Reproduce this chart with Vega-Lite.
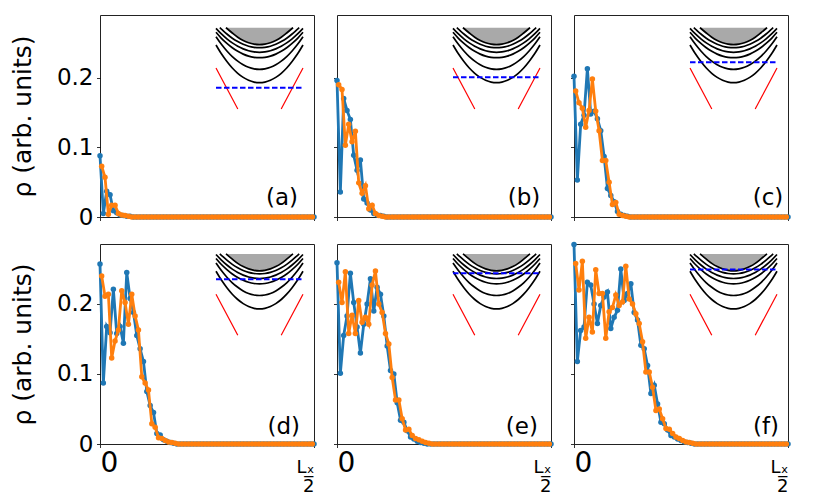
{
  "$schema": "https://vega.github.io/schema/vega-lite/v6.json",
  "background": "white",
  "padding": {"left": 9, "top": 14, "right": 10, "bottom": 0},
  "datasets": {
    "a_b": [{"x":0,"y":0.088},{"x":1,"y":0.005},{"x":2,"y":0.037},{"x":3,"y":0.032},{"x":4,"y":0.009},{"x":5,"y":0.006},{"x":6,"y":0.003},{"x":7,"y":0.002},{"x":8,"y":0.001},{"x":9,"y":0.001},{"x":10,"y":0},{"x":11,"y":0},{"x":12,"y":0},{"x":13,"y":0},{"x":14,"y":0},{"x":15,"y":0},{"x":16,"y":0},{"x":17,"y":0},{"x":18,"y":0},{"x":19,"y":0},{"x":20,"y":0},{"x":21,"y":0},{"x":22,"y":0},{"x":23,"y":0},{"x":24,"y":0},{"x":25,"y":0},{"x":26,"y":0},{"x":27,"y":0},{"x":28,"y":0},{"x":29,"y":0},{"x":30,"y":0},{"x":31,"y":0},{"x":32,"y":0},{"x":33,"y":0},{"x":34,"y":0},{"x":35,"y":0},{"x":36,"y":0},{"x":37,"y":0},{"x":38,"y":0},{"x":39,"y":0},{"x":40,"y":0},{"x":41,"y":0},{"x":42,"y":0},{"x":43,"y":0},{"x":44,"y":0},{"x":45,"y":0},{"x":46,"y":0},{"x":47,"y":0},{"x":48,"y":0},{"x":49,"y":0},{"x":50,"y":0},{"x":51,"y":0},{"x":52,"y":0},{"x":53,"y":0},{"x":54,"y":0},{"x":55,"y":0},{"x":56,"y":0},{"x":57,"y":0},{"x":58,"y":0},{"x":59,"y":0},{"x":60,"y":0},{"x":61,"y":0},{"x":62,"y":0},{"x":63,"y":0},{"x":64,"y":0}],
    "a_o": [{"x":0.5,"y":0.073},{"x":1.5,"y":0.057},{"x":2.5,"y":0.004},{"x":3.5,"y":0.017},{"x":4.5,"y":0.017},{"x":5.5,"y":0.005},{"x":6.5,"y":0.003},{"x":7.5,"y":0.002},{"x":8.5,"y":0.001},{"x":9.5,"y":0},{"x":10.5,"y":0},{"x":11.5,"y":0},{"x":12.5,"y":0},{"x":13.5,"y":0},{"x":14.5,"y":0},{"x":15.5,"y":0},{"x":16.5,"y":0},{"x":17.5,"y":0},{"x":18.5,"y":0},{"x":19.5,"y":0},{"x":20.5,"y":0},{"x":21.5,"y":0},{"x":22.5,"y":0},{"x":23.5,"y":0},{"x":24.5,"y":0},{"x":25.5,"y":0},{"x":26.5,"y":0},{"x":27.5,"y":0},{"x":28.5,"y":0},{"x":29.5,"y":0},{"x":30.5,"y":0},{"x":31.5,"y":0},{"x":32.5,"y":0},{"x":33.5,"y":0},{"x":34.5,"y":0},{"x":35.5,"y":0},{"x":36.5,"y":0},{"x":37.5,"y":0},{"x":38.5,"y":0},{"x":39.5,"y":0},{"x":40.5,"y":0},{"x":41.5,"y":0},{"x":42.5,"y":0},{"x":43.5,"y":0},{"x":44.5,"y":0},{"x":45.5,"y":0},{"x":46.5,"y":0},{"x":47.5,"y":0},{"x":48.5,"y":0},{"x":49.5,"y":0},{"x":50.5,"y":0},{"x":51.5,"y":0},{"x":52.5,"y":0},{"x":53.5,"y":0},{"x":54.5,"y":0},{"x":55.5,"y":0},{"x":56.5,"y":0},{"x":57.5,"y":0},{"x":58.5,"y":0},{"x":59.5,"y":0},{"x":60.5,"y":0},{"x":61.5,"y":0},{"x":62.5,"y":0},{"x":63.5,"y":0}],
    "b_b": [{"x":0,"y":0.196},{"x":1,"y":0.036},{"x":2,"y":0.17},{"x":3,"y":0.153},{"x":4,"y":0.14},{"x":5,"y":0.0885},{"x":6,"y":0.067},{"x":7,"y":0.082},{"x":8,"y":0.026},{"x":9,"y":0.02},{"x":10,"y":0.01},{"x":11,"y":0.005},{"x":12,"y":0.003},{"x":13,"y":0.002},{"x":14,"y":0.001},{"x":15,"y":0},{"x":16,"y":0},{"x":17,"y":0},{"x":18,"y":0},{"x":19,"y":0},{"x":20,"y":0},{"x":21,"y":0},{"x":22,"y":0},{"x":23,"y":0},{"x":24,"y":0},{"x":25,"y":0},{"x":26,"y":0},{"x":27,"y":0},{"x":28,"y":0},{"x":29,"y":0},{"x":30,"y":0},{"x":31,"y":0},{"x":32,"y":0},{"x":33,"y":0},{"x":34,"y":0},{"x":35,"y":0},{"x":36,"y":0},{"x":37,"y":0},{"x":38,"y":0},{"x":39,"y":0},{"x":40,"y":0},{"x":41,"y":0},{"x":42,"y":0},{"x":43,"y":0},{"x":44,"y":0},{"x":45,"y":0},{"x":46,"y":0},{"x":47,"y":0},{"x":48,"y":0},{"x":49,"y":0},{"x":50,"y":0},{"x":51,"y":0},{"x":52,"y":0},{"x":53,"y":0},{"x":54,"y":0},{"x":55,"y":0},{"x":56,"y":0},{"x":57,"y":0},{"x":58,"y":0},{"x":59,"y":0},{"x":60,"y":0},{"x":61,"y":0},{"x":62,"y":0},{"x":63,"y":0},{"x":64,"y":0}],
    "b_o": [{"x":0.5,"y":0.19},{"x":1.5,"y":0.183},{"x":2.5,"y":0.103},{"x":3.5,"y":0.133},{"x":4.5,"y":0.108},{"x":5.5,"y":0.123},{"x":6.5,"y":0.049},{"x":7.5,"y":0.034},{"x":8.5,"y":0.045},{"x":9.5,"y":0.012},{"x":10.5,"y":0.017},{"x":11.5,"y":0.005},{"x":12.5,"y":0.002},{"x":13.5,"y":0.001},{"x":14.5,"y":0},{"x":15.5,"y":0},{"x":16.5,"y":0},{"x":17.5,"y":0},{"x":18.5,"y":0},{"x":19.5,"y":0},{"x":20.5,"y":0},{"x":21.5,"y":0},{"x":22.5,"y":0},{"x":23.5,"y":0},{"x":24.5,"y":0},{"x":25.5,"y":0},{"x":26.5,"y":0},{"x":27.5,"y":0},{"x":28.5,"y":0},{"x":29.5,"y":0},{"x":30.5,"y":0},{"x":31.5,"y":0},{"x":32.5,"y":0},{"x":33.5,"y":0},{"x":34.5,"y":0},{"x":35.5,"y":0},{"x":36.5,"y":0},{"x":37.5,"y":0},{"x":38.5,"y":0},{"x":39.5,"y":0},{"x":40.5,"y":0},{"x":41.5,"y":0},{"x":42.5,"y":0},{"x":43.5,"y":0},{"x":44.5,"y":0},{"x":45.5,"y":0},{"x":46.5,"y":0},{"x":47.5,"y":0},{"x":48.5,"y":0},{"x":49.5,"y":0},{"x":50.5,"y":0},{"x":51.5,"y":0},{"x":52.5,"y":0},{"x":53.5,"y":0},{"x":54.5,"y":0},{"x":55.5,"y":0},{"x":56.5,"y":0},{"x":57.5,"y":0},{"x":58.5,"y":0},{"x":59.5,"y":0},{"x":60.5,"y":0},{"x":61.5,"y":0},{"x":62.5,"y":0},{"x":63.5,"y":0}],
    "c_b": [{"x":0,"y":0.202},{"x":1,"y":0.053},{"x":2,"y":0.133},{"x":3,"y":0.146},{"x":4,"y":0.213},{"x":5,"y":0.148},{"x":6,"y":0.152},{"x":7,"y":0.141},{"x":8,"y":0.124},{"x":9,"y":0.087},{"x":10,"y":0.041},{"x":11,"y":0.031},{"x":12,"y":0.022},{"x":13,"y":0.008},{"x":14,"y":0.004},{"x":15,"y":0.002},{"x":16,"y":0.001},{"x":17,"y":0},{"x":18,"y":0},{"x":19,"y":0},{"x":20,"y":0},{"x":21,"y":0},{"x":22,"y":0},{"x":23,"y":0},{"x":24,"y":0},{"x":25,"y":0},{"x":26,"y":0},{"x":27,"y":0},{"x":28,"y":0},{"x":29,"y":0},{"x":30,"y":0},{"x":31,"y":0},{"x":32,"y":0},{"x":33,"y":0},{"x":34,"y":0},{"x":35,"y":0},{"x":36,"y":0},{"x":37,"y":0},{"x":38,"y":0},{"x":39,"y":0},{"x":40,"y":0},{"x":41,"y":0},{"x":42,"y":0},{"x":43,"y":0},{"x":44,"y":0},{"x":45,"y":0},{"x":46,"y":0},{"x":47,"y":0},{"x":48,"y":0},{"x":49,"y":0},{"x":50,"y":0},{"x":51,"y":0},{"x":52,"y":0},{"x":53,"y":0},{"x":54,"y":0},{"x":55,"y":0},{"x":56,"y":0},{"x":57,"y":0},{"x":58,"y":0},{"x":59,"y":0},{"x":60,"y":0},{"x":61,"y":0},{"x":62,"y":0},{"x":63,"y":0},{"x":64,"y":0}],
    "c_o": [{"x":0.5,"y":0.181},{"x":1.5,"y":0.164},{"x":2.5,"y":0.156},{"x":3.5,"y":0.129},{"x":4.5,"y":0.153},{"x":5.5,"y":0.198},{"x":6.5,"y":0.152},{"x":7.5,"y":0.124},{"x":8.5,"y":0.081},{"x":9.5,"y":0.081},{"x":10.5,"y":0.05},{"x":11.5,"y":0.018},{"x":12.5,"y":0.021},{"x":13.5,"y":0.004},{"x":14.5,"y":0.002},{"x":15.5,"y":0.001},{"x":16.5,"y":0},{"x":17.5,"y":0},{"x":18.5,"y":0},{"x":19.5,"y":0},{"x":20.5,"y":0},{"x":21.5,"y":0},{"x":22.5,"y":0},{"x":23.5,"y":0},{"x":24.5,"y":0},{"x":25.5,"y":0},{"x":26.5,"y":0},{"x":27.5,"y":0},{"x":28.5,"y":0},{"x":29.5,"y":0},{"x":30.5,"y":0},{"x":31.5,"y":0},{"x":32.5,"y":0},{"x":33.5,"y":0},{"x":34.5,"y":0},{"x":35.5,"y":0},{"x":36.5,"y":0},{"x":37.5,"y":0},{"x":38.5,"y":0},{"x":39.5,"y":0},{"x":40.5,"y":0},{"x":41.5,"y":0},{"x":42.5,"y":0},{"x":43.5,"y":0},{"x":44.5,"y":0},{"x":45.5,"y":0},{"x":46.5,"y":0},{"x":47.5,"y":0},{"x":48.5,"y":0},{"x":49.5,"y":0},{"x":50.5,"y":0},{"x":51.5,"y":0},{"x":52.5,"y":0},{"x":53.5,"y":0},{"x":54.5,"y":0},{"x":55.5,"y":0},{"x":56.5,"y":0},{"x":57.5,"y":0},{"x":58.5,"y":0},{"x":59.5,"y":0},{"x":60.5,"y":0},{"x":61.5,"y":0},{"x":62.5,"y":0},{"x":63.5,"y":0}],
    "d_b": [{"x":0,"y":0.257},{"x":1,"y":0.087},{"x":2,"y":0.168},{"x":3,"y":0.159},{"x":4,"y":0.221},{"x":5,"y":0.158},{"x":6,"y":0.168},{"x":7,"y":0.144},{"x":8,"y":0.245},{"x":9,"y":0.208},{"x":10,"y":0.188},{"x":11,"y":0.155},{"x":12,"y":0.136},{"x":13,"y":0.118},{"x":14,"y":0.075},{"x":15,"y":0.055},{"x":16,"y":0.045},{"x":17,"y":0.015},{"x":18,"y":0.013},{"x":19,"y":0.006},{"x":20,"y":0.004},{"x":21,"y":0.002},{"x":22,"y":0.001},{"x":23,"y":0},{"x":24,"y":0},{"x":25,"y":0},{"x":26,"y":0},{"x":27,"y":0},{"x":28,"y":0},{"x":29,"y":0},{"x":30,"y":0},{"x":31,"y":0},{"x":32,"y":0},{"x":33,"y":0},{"x":34,"y":0},{"x":35,"y":0},{"x":36,"y":0},{"x":37,"y":0},{"x":38,"y":0},{"x":39,"y":0},{"x":40,"y":0},{"x":41,"y":0},{"x":42,"y":0},{"x":43,"y":0},{"x":44,"y":0},{"x":45,"y":0},{"x":46,"y":0},{"x":47,"y":0},{"x":48,"y":0},{"x":49,"y":0},{"x":50,"y":0},{"x":51,"y":0},{"x":52,"y":0},{"x":53,"y":0},{"x":54,"y":0},{"x":55,"y":0},{"x":56,"y":0},{"x":57,"y":0},{"x":58,"y":0},{"x":59,"y":0},{"x":60,"y":0},{"x":61,"y":0},{"x":62,"y":0},{"x":63,"y":0},{"x":64,"y":0}],
    "d_o": [{"x":0.5,"y":0.24},{"x":1.5,"y":0.211},{"x":2.5,"y":0.214},{"x":3.5,"y":0.123},{"x":4.5,"y":0.147},{"x":5.5,"y":0.163},{"x":6.5,"y":0.219},{"x":7.5,"y":0.202},{"x":8.5,"y":0.171},{"x":9.5,"y":0.214},{"x":10.5,"y":0.183},{"x":11.5,"y":0.163},{"x":12.5,"y":0.096},{"x":13.5,"y":0.087},{"x":14.5,"y":0.077},{"x":15.5,"y":0.029},{"x":16.5,"y":0.024},{"x":17.5,"y":0.009},{"x":18.5,"y":0.008},{"x":19.5,"y":0.005},{"x":20.5,"y":0.003},{"x":21.5,"y":0.002},{"x":22.5,"y":0.001},{"x":23.5,"y":0},{"x":24.5,"y":0},{"x":25.5,"y":0},{"x":26.5,"y":0},{"x":27.5,"y":0},{"x":28.5,"y":0},{"x":29.5,"y":0},{"x":30.5,"y":0},{"x":31.5,"y":0},{"x":32.5,"y":0},{"x":33.5,"y":0},{"x":34.5,"y":0},{"x":35.5,"y":0},{"x":36.5,"y":0},{"x":37.5,"y":0},{"x":38.5,"y":0},{"x":39.5,"y":0},{"x":40.5,"y":0},{"x":41.5,"y":0},{"x":42.5,"y":0},{"x":43.5,"y":0},{"x":44.5,"y":0},{"x":45.5,"y":0},{"x":46.5,"y":0},{"x":47.5,"y":0},{"x":48.5,"y":0},{"x":49.5,"y":0},{"x":50.5,"y":0},{"x":51.5,"y":0},{"x":52.5,"y":0},{"x":53.5,"y":0},{"x":54.5,"y":0},{"x":55.5,"y":0},{"x":56.5,"y":0},{"x":57.5,"y":0},{"x":58.5,"y":0},{"x":59.5,"y":0},{"x":60.5,"y":0},{"x":61.5,"y":0},{"x":62.5,"y":0},{"x":63.5,"y":0}],
    "e_b": [{"x":0,"y":0.259},{"x":1,"y":0.101},{"x":2,"y":0.155},{"x":3,"y":0.183},{"x":4,"y":0.244},{"x":5,"y":0.202},{"x":6,"y":0.167},{"x":7,"y":0.13},{"x":8,"y":0.171},{"x":9,"y":0.2},{"x":10,"y":0.236},{"x":11,"y":0.19},{"x":12,"y":0.224},{"x":13,"y":0.214},{"x":14,"y":0.183},{"x":15,"y":0.14},{"x":16,"y":0.105},{"x":17,"y":0.1},{"x":18,"y":0.059},{"x":19,"y":0.034},{"x":20,"y":0.031},{"x":21,"y":0.019},{"x":22,"y":0.01},{"x":23,"y":0.007},{"x":24,"y":0.004},{"x":25,"y":0.002},{"x":26,"y":0.001},{"x":27,"y":0},{"x":28,"y":0},{"x":29,"y":0},{"x":30,"y":0},{"x":31,"y":0},{"x":32,"y":0},{"x":33,"y":0},{"x":34,"y":0},{"x":35,"y":0},{"x":36,"y":0},{"x":37,"y":0},{"x":38,"y":0},{"x":39,"y":0},{"x":40,"y":0},{"x":41,"y":0},{"x":42,"y":0},{"x":43,"y":0},{"x":44,"y":0},{"x":45,"y":0},{"x":46,"y":0},{"x":47,"y":0},{"x":48,"y":0},{"x":49,"y":0},{"x":50,"y":0},{"x":51,"y":0},{"x":52,"y":0},{"x":53,"y":0},{"x":54,"y":0},{"x":55,"y":0},{"x":56,"y":0},{"x":57,"y":0},{"x":58,"y":0},{"x":59,"y":0},{"x":60,"y":0},{"x":61,"y":0},{"x":62,"y":0},{"x":63,"y":0},{"x":64,"y":0}],
    "e_o": [{"x":0.5,"y":0.231},{"x":1.5,"y":0.202},{"x":2.5,"y":0.246},{"x":3.5,"y":0.158},{"x":4.5,"y":0.184},{"x":5.5,"y":0.158},{"x":6.5,"y":0.205},{"x":7.5,"y":0.174},{"x":8.5,"y":0.181},{"x":9.5,"y":0.171},{"x":10.5,"y":0.227},{"x":11.5,"y":0.247},{"x":12.5,"y":0.2},{"x":13.5,"y":0.188},{"x":14.5,"y":0.158},{"x":15.5,"y":0.143},{"x":16.5,"y":0.095},{"x":17.5,"y":0.063},{"x":18.5,"y":0.063},{"x":19.5,"y":0.036},{"x":20.5,"y":0.02},{"x":21.5,"y":0.021},{"x":22.5,"y":0.012},{"x":23.5,"y":0.008},{"x":24.5,"y":0.006},{"x":25.5,"y":0.004},{"x":26.5,"y":0.002},{"x":27.5,"y":0.001},{"x":28.5,"y":0},{"x":29.5,"y":0},{"x":30.5,"y":0},{"x":31.5,"y":0},{"x":32.5,"y":0},{"x":33.5,"y":0},{"x":34.5,"y":0},{"x":35.5,"y":0},{"x":36.5,"y":0},{"x":37.5,"y":0},{"x":38.5,"y":0},{"x":39.5,"y":0},{"x":40.5,"y":0},{"x":41.5,"y":0},{"x":42.5,"y":0},{"x":43.5,"y":0},{"x":44.5,"y":0},{"x":45.5,"y":0},{"x":46.5,"y":0},{"x":47.5,"y":0},{"x":48.5,"y":0},{"x":49.5,"y":0},{"x":50.5,"y":0},{"x":51.5,"y":0},{"x":52.5,"y":0},{"x":53.5,"y":0},{"x":54.5,"y":0},{"x":55.5,"y":0},{"x":56.5,"y":0},{"x":57.5,"y":0},{"x":58.5,"y":0},{"x":59.5,"y":0},{"x":60.5,"y":0},{"x":61.5,"y":0},{"x":62.5,"y":0},{"x":63.5,"y":0}],
    "f_b": [{"x":0,"y":0.285},{"x":1,"y":0.118},{"x":2,"y":0.162},{"x":3,"y":0.167},{"x":4,"y":0.231},{"x":5,"y":0.227},{"x":6,"y":0.2},{"x":7,"y":0.172},{"x":8,"y":0.198},{"x":9,"y":0.21},{"x":10,"y":0.217},{"x":11,"y":0.165},{"x":12,"y":0.181},{"x":13,"y":0.191},{"x":14,"y":0.25},{"x":15,"y":0.205},{"x":16,"y":0.215},{"x":17,"y":0.229},{"x":18,"y":0.188},{"x":19,"y":0.177},{"x":20,"y":0.141},{"x":21,"y":0.136},{"x":22,"y":0.112},{"x":23,"y":0.072},{"x":24,"y":0.084},{"x":25,"y":0.057},{"x":26,"y":0.031},{"x":27,"y":0.029},{"x":28,"y":0.02},{"x":29,"y":0.012},{"x":30,"y":0.01},{"x":31,"y":0.007},{"x":32,"y":0.005},{"x":33,"y":0.003},{"x":34,"y":0.002},{"x":35,"y":0.001},{"x":36,"y":0},{"x":37,"y":0},{"x":38,"y":0},{"x":39,"y":0},{"x":40,"y":0},{"x":41,"y":0},{"x":42,"y":0},{"x":43,"y":0},{"x":44,"y":0},{"x":45,"y":0},{"x":46,"y":0},{"x":47,"y":0},{"x":48,"y":0},{"x":49,"y":0},{"x":50,"y":0},{"x":51,"y":0},{"x":52,"y":0},{"x":53,"y":0},{"x":54,"y":0},{"x":55,"y":0},{"x":56,"y":0},{"x":57,"y":0},{"x":58,"y":0},{"x":59,"y":0},{"x":60,"y":0},{"x":61,"y":0},{"x":62,"y":0},{"x":63,"y":0},{"x":64,"y":0}],
    "f_o": [{"x":0.5,"y":0.258},{"x":1.5,"y":0.22},{"x":2.5,"y":0.261},{"x":3.5,"y":0.151},{"x":4.5,"y":0.181},{"x":5.5,"y":0.16},{"x":6.5,"y":0.249},{"x":7.5,"y":0.215},{"x":8.5,"y":0.215},{"x":9.5,"y":0.151},{"x":10.5,"y":0.189},{"x":11.5,"y":0.195},{"x":12.5,"y":0.213},{"x":13.5,"y":0.198},{"x":14.5,"y":0.203},{"x":15.5,"y":0.254},{"x":16.5,"y":0.207},{"x":17.5,"y":0.2},{"x":18.5,"y":0.186},{"x":19.5,"y":0.172},{"x":20.5,"y":0.146},{"x":21.5,"y":0.103},{"x":22.5,"y":0.103},{"x":23.5,"y":0.081},{"x":24.5,"y":0.048},{"x":25.5,"y":0.05},{"x":26.5,"y":0.036},{"x":27.5,"y":0.022},{"x":28.5,"y":0.021},{"x":29.5,"y":0.015},{"x":30.5,"y":0.01},{"x":31.5,"y":0.008},{"x":32.5,"y":0.005},{"x":33.5,"y":0.003},{"x":34.5,"y":0.002},{"x":35.5,"y":0.001},{"x":36.5,"y":0},{"x":37.5,"y":0},{"x":38.5,"y":0},{"x":39.5,"y":0},{"x":40.5,"y":0},{"x":41.5,"y":0},{"x":42.5,"y":0},{"x":43.5,"y":0},{"x":44.5,"y":0},{"x":45.5,"y":0},{"x":46.5,"y":0},{"x":47.5,"y":0},{"x":48.5,"y":0},{"x":49.5,"y":0},{"x":50.5,"y":0},{"x":51.5,"y":0},{"x":52.5,"y":0},{"x":53.5,"y":0},{"x":54.5,"y":0},{"x":55.5,"y":0},{"x":56.5,"y":0},{"x":57.5,"y":0},{"x":58.5,"y":0},{"x":59.5,"y":0},{"x":60.5,"y":0},{"x":61.5,"y":0},{"x":62.5,"y":0},{"x":63.5,"y":0}],
    "gray": [{"u":-33.5,"w":81.3},{"u":-27.2,"w":76.0},{"u":-21.75,"w":71.8},{"u":-16.3,"w":68.6},{"u":-10.9,"w":66.3},{"u":-5.4,"w":64.9},{"u":0,"w":64.4},{"u":5.4,"w":64.9},{"u":10.9,"w":66.3},{"u":16.3,"w":68.6},{"u":21.75,"w":71.8},{"u":27.2,"w":76.0},{"u":33.5,"w":81.3}],
    "curves": [
      {"c":1,"u":-43.5,"w":64.0},{"c":1,"u":-38.1,"w":55.2},{"c":1,"u":-32.6,"w":47.5},{"c":1,"u":-27.2,"w":41.0},{"c":1,"u":-21.75,"w":35.7},{"c":1,"u":-16.3,"w":31.6},{"c":1,"u":-10.9,"w":28.7},{"c":1,"u":-5.4,"w":26.9},{"c":1,"u":0,"w":26.3},{"c":1,"u":5.4,"w":26.9},{"c":1,"u":10.9,"w":28.7},{"c":1,"u":16.3,"w":31.6},{"c":1,"u":21.75,"w":35.7},{"c":1,"u":27.2,"w":41.0},{"c":1,"u":32.6,"w":47.5},{"c":1,"u":38.1,"w":55.2},{"c":1,"u":43.5,"w":64.0},
      {"c":2,"u":-43.5,"w":72.3},{"c":2,"u":-38.1,"w":64.7},{"c":2,"u":-32.6,"w":58.0},{"c":2,"u":-27.2,"w":52.4},{"c":2,"u":-21.75,"w":47.9},{"c":2,"u":-16.3,"w":44.3},{"c":2,"u":-10.9,"w":41.7},{"c":2,"u":-5.4,"w":40.2},{"c":2,"u":0,"w":39.7},{"c":2,"u":5.4,"w":40.2},{"c":2,"u":10.9,"w":41.7},{"c":2,"u":16.3,"w":44.3},{"c":2,"u":21.75,"w":47.9},{"c":2,"u":27.2,"w":52.4},{"c":2,"u":32.6,"w":58.0},{"c":2,"u":38.1,"w":64.7},{"c":2,"u":43.5,"w":72.3},
      {"c":3,"u":-43.5,"w":76.7},{"c":3,"u":-38.1,"w":70.7},{"c":3,"u":-32.6,"w":65.6},{"c":3,"u":-27.2,"w":61.2},{"c":3,"u":-21.75,"w":57.7},{"c":3,"u":-16.3,"w":54.9},{"c":3,"u":-10.9,"w":52.9},{"c":3,"u":-5.4,"w":51.7},{"c":3,"u":0,"w":51.3},{"c":3,"u":5.4,"w":51.7},{"c":3,"u":10.9,"w":52.9},{"c":3,"u":16.3,"w":54.9},{"c":3,"u":21.75,"w":57.7},{"c":3,"u":27.2,"w":61.2},{"c":3,"u":32.6,"w":65.6},{"c":3,"u":38.1,"w":70.7},{"c":3,"u":43.5,"w":76.7},
      {"c":4,"u":-43.5,"w":80.7},{"c":4,"u":-38.1,"w":75.1},{"c":4,"u":-32.6,"w":70.2},{"c":4,"u":-27.2,"w":66.1},{"c":4,"u":-21.75,"w":62.7},{"c":4,"u":-16.3,"w":60.1},{"c":4,"u":-10.9,"w":58.2},{"c":4,"u":-5.4,"w":57.1},{"c":4,"u":0,"w":56.7},{"c":4,"u":5.4,"w":57.1},{"c":4,"u":10.9,"w":58.2},{"c":4,"u":16.3,"w":60.1},{"c":4,"u":21.75,"w":62.7},{"c":4,"u":27.2,"w":66.1},{"c":4,"u":32.6,"w":70.2},{"c":4,"u":38.1,"w":75.1},{"c":4,"u":43.5,"w":80.7},
      {"c":5,"u":-39.7,"w":81.3},{"c":5,"u":-38.1,"w":79.9},{"c":5,"u":-32.6,"w":75.0},{"c":5,"u":-27.2,"w":70.8},{"c":5,"u":-21.75,"w":67.4},{"c":5,"u":-16.3,"w":64.7},{"c":5,"u":-10.9,"w":62.8},{"c":5,"u":-5.4,"w":61.7},{"c":5,"u":0,"w":61.3},{"c":5,"u":5.4,"w":61.7},{"c":5,"u":10.9,"w":62.8},{"c":5,"u":16.3,"w":64.7},{"c":5,"u":21.75,"w":67.4},{"c":5,"u":27.2,"w":70.8},{"c":5,"u":32.6,"w":75.0},{"c":5,"u":38.1,"w":79.9},{"c":5,"u":39.7,"w":81.3},
      {"c":6,"u":-33.5,"w":81.3},{"c":6,"u":-27.2,"w":76.0},{"c":6,"u":-21.75,"w":71.8},{"c":6,"u":-16.3,"w":68.6},{"c":6,"u":-10.9,"w":66.3},{"c":6,"u":-5.4,"w":64.9},{"c":6,"u":0,"w":64.4},{"c":6,"u":5.4,"w":64.9},{"c":6,"u":10.9,"w":66.3},{"c":6,"u":16.3,"w":68.6},{"c":6,"u":21.75,"w":71.8},{"c":6,"u":27.2,"w":76.0},{"c":6,"u":33.5,"w":81.3}
    ],
    "red": [{"s":"l","u":-43.5,"w":41},{"s":"l","u":-21.7,"w":0},{"s":"r","u":21.7,"w":0},{"s":"r","u":43.5,"w":41}],
    "dash": [{"p":"a","u":-43.5,"w":21.3},{"p":"a","u":43.5,"w":21.3},{"p":"b","u":-43.5,"w":31.7},{"p":"b","u":43.5,"w":31.7},{"p":"c","u":-43.5,"w":46.7},{"p":"c","u":43.5,"w":46.7},{"p":"d","u":-43.5,"w":56},{"p":"d","u":43.5,"w":56},{"p":"e","u":-43.5,"w":62},{"p":"e","u":43.5,"w":62},{"p":"f","u":-43.5,"w":65.8},{"p":"f","u":43.5,"w":65.8}]
  },
  "columns": 3,
  "spacing": {"row": 27, "column": 23},
  "bounds": "flush",
  "concat": [
    {
      "width": 214, "height": 202,
      "layer": [
        {"layer": [
          {"data": {"name": "a_b"}, "mark": {"type": "line", "color": "#1f77b4", "strokeWidth": 2.8, "point": {"filled": true, "size": 30, "color": "#1f77b4"}},
           "encoding": {"x": {"field": "x", "type": "quantitative", "scale": {"domain": [0, 64], "nice": false, "zero": false}, "axis": {"values": [0, 64], "labels": false, "title": null}},
                        "y": {"field": "y", "type": "quantitative", "scale": {"domain": [0, 0.29], "nice": false}, "axis": {"values": [0, 0.1, 0.2], "labelExpr": "datum.value == 0 ? '0' : format(datum.value, '.1f')", "labelFontSize": 23, "title": "ρ (arb. units)", "titleFontSize": 25, "titleFontWeight": "normal", "titlePadding": 21}}}},
          {"data": {"name": "a_o"}, "mark": {"type": "line", "color": "#ff7f0e", "strokeWidth": 2.8, "point": {"filled": true, "size": 30, "color": "#ff7f0e"}},
           "encoding": {"x": {"field": "x", "type": "quantitative", "scale": {"domain": [0, 64], "nice": false, "zero": false}},
                        "y": {"field": "y", "type": "quantitative", "scale": {"domain": [0, 0.29], "nice": false}}}},
          {"data": {"values": [{"t": "(a)"}]}, "mark": {"type": "text", "align": "right", "baseline": "alphabetic", "fontSize": 23, "color": "#000"},
           "encoding": {"x": {"datum": 59.2, "type": "quantitative", "scale": {"domain": [0, 64], "nice": false, "zero": false}},
                        "y": {"datum": 0.017, "type": "quantitative", "scale": {"domain": [0, 0.29], "nice": false}}, "text": {"field": "t"}}}
        ]},
        {"layer": [
          {"data": {"name": "gray"}, "mark": {"type": "area", "color": "#a9a9a9", "interpolate": "monotone"},
           "encoding": {"x": {"field": "u", "type": "quantitative", "scale": {"domain": [-159.5, 54.5], "nice": false, "zero": false}, "axis": null}, "y": {"field": "w", "type": "quantitative", "scale": {"domain": [-108, 94], "nice": false, "zero": false}, "axis": null}, "y2": {"datum": 81.3}}},
          {"data": {"name": "curves"}, "mark": {"type": "line", "color": "#000", "strokeWidth": 1.7, "interpolate": "monotone"},
           "encoding": {"x": {"field": "u", "type": "quantitative", "scale": {"domain": [-159.5, 54.5], "nice": false, "zero": false}, "axis": null}, "y": {"field": "w", "type": "quantitative", "scale": {"domain": [-108, 94], "nice": false, "zero": false}, "axis": null}, "detail": {"field": "c"}}},
          {"data": {"name": "red"}, "mark": {"type": "line", "color": "#ff0000", "strokeWidth": 1.2},
           "encoding": {"x": {"field": "u", "type": "quantitative", "scale": {"domain": [-159.5, 54.5], "nice": false, "zero": false}, "axis": null}, "y": {"field": "w", "type": "quantitative", "scale": {"domain": [-108, 94], "nice": false, "zero": false}, "axis": null}, "detail": {"field": "s"}}},
          {"data": {"name": "dash"}, "transform": [{"filter": "datum.p == 'a'"}], "mark": {"type": "line", "color": "#0000ff", "strokeWidth": 2, "strokeDash": [5.5, 2.5]},
           "encoding": {"x": {"field": "u", "type": "quantitative", "scale": {"domain": [-159.5, 54.5], "nice": false, "zero": false}, "axis": null}, "y": {"field": "w", "type": "quantitative", "scale": {"domain": [-108, 94], "nice": false, "zero": false}, "axis": null}}}
        ]}
      ],
      "resolve": {"scale": {"x": "independent", "y": "independent"}}
    },
    {
      "width": 214, "height": 202,
      "layer": [
        {"layer": [
          {"data": {"name": "b_b"}, "mark": {"type": "line", "color": "#1f77b4", "strokeWidth": 2.8, "point": {"filled": true, "size": 30, "color": "#1f77b4"}},
           "encoding": {"x": {"field": "x", "type": "quantitative", "scale": {"domain": [0, 64], "nice": false, "zero": false}, "axis": {"values": [0, 64], "labels": false, "title": null}},
                        "y": {"field": "y", "type": "quantitative", "scale": {"domain": [0, 0.29], "nice": false}, "axis": {"values": [0, 0.1, 0.2], "labels": false, "title": null}}}},
          {"data": {"name": "b_o"}, "mark": {"type": "line", "color": "#ff7f0e", "strokeWidth": 2.8, "point": {"filled": true, "size": 30, "color": "#ff7f0e"}},
           "encoding": {"x": {"field": "x", "type": "quantitative", "scale": {"domain": [0, 64], "nice": false, "zero": false}},
                        "y": {"field": "y", "type": "quantitative", "scale": {"domain": [0, 0.29], "nice": false}}}},
          {"data": {"values": [{"t": "(b)"}]}, "mark": {"type": "text", "align": "right", "baseline": "alphabetic", "fontSize": 23, "color": "#000"},
           "encoding": {"x": {"datum": 60.8, "type": "quantitative", "scale": {"domain": [0, 64], "nice": false, "zero": false}},
                        "y": {"datum": 0.017, "type": "quantitative", "scale": {"domain": [0, 0.29], "nice": false}}, "text": {"field": "t"}}}
        ]},
        {"layer": [
          {"data": {"name": "gray"}, "mark": {"type": "area", "color": "#a9a9a9", "interpolate": "monotone"},
           "encoding": {"x": {"field": "u", "type": "quantitative", "scale": {"domain": [-159.5, 54.5], "nice": false, "zero": false}, "axis": null}, "y": {"field": "w", "type": "quantitative", "scale": {"domain": [-108, 94], "nice": false, "zero": false}, "axis": null}, "y2": {"datum": 81.3}}},
          {"data": {"name": "curves"}, "mark": {"type": "line", "color": "#000", "strokeWidth": 1.7, "interpolate": "monotone"},
           "encoding": {"x": {"field": "u", "type": "quantitative", "scale": {"domain": [-159.5, 54.5], "nice": false, "zero": false}, "axis": null}, "y": {"field": "w", "type": "quantitative", "scale": {"domain": [-108, 94], "nice": false, "zero": false}, "axis": null}, "detail": {"field": "c"}}},
          {"data": {"name": "red"}, "mark": {"type": "line", "color": "#ff0000", "strokeWidth": 1.2},
           "encoding": {"x": {"field": "u", "type": "quantitative", "scale": {"domain": [-159.5, 54.5], "nice": false, "zero": false}, "axis": null}, "y": {"field": "w", "type": "quantitative", "scale": {"domain": [-108, 94], "nice": false, "zero": false}, "axis": null}, "detail": {"field": "s"}}},
          {"data": {"name": "dash"}, "transform": [{"filter": "datum.p == 'b'"}], "mark": {"type": "line", "color": "#0000ff", "strokeWidth": 2, "strokeDash": [5.5, 2.5]},
           "encoding": {"x": {"field": "u", "type": "quantitative", "scale": {"domain": [-159.5, 54.5], "nice": false, "zero": false}, "axis": null}, "y": {"field": "w", "type": "quantitative", "scale": {"domain": [-108, 94], "nice": false, "zero": false}, "axis": null}}}
        ]}
      ],
      "resolve": {"scale": {"x": "independent", "y": "independent"}}
    },
    {
      "width": 214, "height": 202,
      "layer": [
        {"layer": [
          {"data": {"name": "c_b"}, "mark": {"type": "line", "color": "#1f77b4", "strokeWidth": 2.8, "point": {"filled": true, "size": 30, "color": "#1f77b4"}},
           "encoding": {"x": {"field": "x", "type": "quantitative", "scale": {"domain": [0, 64], "nice": false, "zero": false}, "axis": {"values": [0, 64], "labels": false, "title": null}},
                        "y": {"field": "y", "type": "quantitative", "scale": {"domain": [0, 0.29], "nice": false}, "axis": {"values": [0, 0.1, 0.2], "labels": false, "title": null}}}},
          {"data": {"name": "c_o"}, "mark": {"type": "line", "color": "#ff7f0e", "strokeWidth": 2.8, "point": {"filled": true, "size": 30, "color": "#ff7f0e"}},
           "encoding": {"x": {"field": "x", "type": "quantitative", "scale": {"domain": [0, 64], "nice": false, "zero": false}},
                        "y": {"field": "y", "type": "quantitative", "scale": {"domain": [0, 0.29], "nice": false}}}},
          {"data": {"values": [{"t": "(c)"}]}, "mark": {"type": "text", "align": "right", "baseline": "alphabetic", "fontSize": 23, "color": "#000"},
           "encoding": {"x": {"datum": 62.6, "type": "quantitative", "scale": {"domain": [0, 64], "nice": false, "zero": false}},
                        "y": {"datum": 0.017, "type": "quantitative", "scale": {"domain": [0, 0.29], "nice": false}}, "text": {"field": "t"}}}
        ]},
        {"layer": [
          {"data": {"name": "gray"}, "mark": {"type": "area", "color": "#a9a9a9", "interpolate": "monotone"},
           "encoding": {"x": {"field": "u", "type": "quantitative", "scale": {"domain": [-159.5, 54.5], "nice": false, "zero": false}, "axis": null}, "y": {"field": "w", "type": "quantitative", "scale": {"domain": [-108, 94], "nice": false, "zero": false}, "axis": null}, "y2": {"datum": 81.3}}},
          {"data": {"name": "curves"}, "mark": {"type": "line", "color": "#000", "strokeWidth": 1.7, "interpolate": "monotone"},
           "encoding": {"x": {"field": "u", "type": "quantitative", "scale": {"domain": [-159.5, 54.5], "nice": false, "zero": false}, "axis": null}, "y": {"field": "w", "type": "quantitative", "scale": {"domain": [-108, 94], "nice": false, "zero": false}, "axis": null}, "detail": {"field": "c"}}},
          {"data": {"name": "red"}, "mark": {"type": "line", "color": "#ff0000", "strokeWidth": 1.2},
           "encoding": {"x": {"field": "u", "type": "quantitative", "scale": {"domain": [-159.5, 54.5], "nice": false, "zero": false}, "axis": null}, "y": {"field": "w", "type": "quantitative", "scale": {"domain": [-108, 94], "nice": false, "zero": false}, "axis": null}, "detail": {"field": "s"}}},
          {"data": {"name": "dash"}, "transform": [{"filter": "datum.p == 'c'"}], "mark": {"type": "line", "color": "#0000ff", "strokeWidth": 2, "strokeDash": [5.5, 2.5]},
           "encoding": {"x": {"field": "u", "type": "quantitative", "scale": {"domain": [-159.5, 54.5], "nice": false, "zero": false}, "axis": null}, "y": {"field": "w", "type": "quantitative", "scale": {"domain": [-108, 94], "nice": false, "zero": false}, "axis": null}}}
        ]}
      ],
      "resolve": {"scale": {"x": "independent", "y": "independent"}}
    },
    {
      "width": 214, "height": 200,
      "layer": [
        {"layer": [
          {"data": {"name": "d_b"}, "mark": {"type": "line", "color": "#1f77b4", "strokeWidth": 2.8, "point": {"filled": true, "size": 30, "color": "#1f77b4"}},
           "encoding": {"x": {"field": "x", "type": "quantitative", "scale": {"domain": [0, 64], "nice": false, "zero": false}, "axis": {"values": [0, 64], "title": null, "labelExpr": "datum.value == 0 ? '0' : ['Lₓ', '2\u0305']", "labelFontSize": {"condition": {"test": "datum.value == 0", "value": 28}, "value": 18}, "labelPadding": {"condition": {"test": "datum.value == 0", "value": 2}, "value": 11}, "labelLineHeight": 19}},
                        "y": {"field": "y", "type": "quantitative", "scale": {"domain": [0, 0.2857], "nice": false}, "axis": {"values": [0, 0.1, 0.2], "labelExpr": "datum.value == 0 ? '0' : format(datum.value, '.1f')", "labelFontSize": 23, "title": "ρ (arb. units)", "titleFontSize": 25, "titleFontWeight": "normal", "titlePadding": 21}}}},
          {"data": {"name": "d_o"}, "mark": {"type": "line", "color": "#ff7f0e", "strokeWidth": 2.8, "point": {"filled": true, "size": 30, "color": "#ff7f0e"}},
           "encoding": {"x": {"field": "x", "type": "quantitative", "scale": {"domain": [0, 64], "nice": false, "zero": false}},
                        "y": {"field": "y", "type": "quantitative", "scale": {"domain": [0, 0.2857], "nice": false}}}},
          {"data": {"values": [{"t": "(d)"}]}, "mark": {"type": "text", "align": "right", "baseline": "alphabetic", "fontSize": 23, "color": "#000"},
           "encoding": {"x": {"datum": 59.8, "type": "quantitative", "scale": {"domain": [0, 64], "nice": false, "zero": false}},
                        "y": {"datum": 0.014, "type": "quantitative", "scale": {"domain": [0, 0.2857], "nice": false}}, "text": {"field": "t"}}}
        ]},
        {"layer": [
          {"data": {"name": "gray"}, "mark": {"type": "area", "color": "#a9a9a9", "interpolate": "monotone"},
           "encoding": {"x": {"field": "u", "type": "quantitative", "scale": {"domain": [-159.5, 54.5], "nice": false, "zero": false}, "axis": null}, "y": {"field": "w", "type": "quantitative", "scale": {"domain": [-108.8, 91.2], "nice": false, "zero": false}, "axis": null}, "y2": {"datum": 81.3}}},
          {"data": {"name": "curves"}, "mark": {"type": "line", "color": "#000", "strokeWidth": 1.7, "interpolate": "monotone"},
           "encoding": {"x": {"field": "u", "type": "quantitative", "scale": {"domain": [-159.5, 54.5], "nice": false, "zero": false}, "axis": null}, "y": {"field": "w", "type": "quantitative", "scale": {"domain": [-108.8, 91.2], "nice": false, "zero": false}, "axis": null}, "detail": {"field": "c"}}},
          {"data": {"name": "red"}, "mark": {"type": "line", "color": "#ff0000", "strokeWidth": 1.2},
           "encoding": {"x": {"field": "u", "type": "quantitative", "scale": {"domain": [-159.5, 54.5], "nice": false, "zero": false}, "axis": null}, "y": {"field": "w", "type": "quantitative", "scale": {"domain": [-108.8, 91.2], "nice": false, "zero": false}, "axis": null}, "detail": {"field": "s"}}},
          {"data": {"name": "dash"}, "transform": [{"filter": "datum.p == 'd'"}], "mark": {"type": "line", "color": "#0000ff", "strokeWidth": 2, "strokeDash": [5.5, 2.5]},
           "encoding": {"x": {"field": "u", "type": "quantitative", "scale": {"domain": [-159.5, 54.5], "nice": false, "zero": false}, "axis": null}, "y": {"field": "w", "type": "quantitative", "scale": {"domain": [-108.8, 91.2], "nice": false, "zero": false}, "axis": null}}}
        ]}
      ],
      "resolve": {"scale": {"x": "independent", "y": "independent"}}
    },
    {
      "width": 214, "height": 200,
      "layer": [
        {"layer": [
          {"data": {"name": "e_b"}, "mark": {"type": "line", "color": "#1f77b4", "strokeWidth": 2.8, "point": {"filled": true, "size": 30, "color": "#1f77b4"}},
           "encoding": {"x": {"field": "x", "type": "quantitative", "scale": {"domain": [0, 64], "nice": false, "zero": false}, "axis": {"values": [0, 64], "title": null, "labelExpr": "datum.value == 0 ? '0' : ['Lₓ', '2\u0305']", "labelFontSize": {"condition": {"test": "datum.value == 0", "value": 28}, "value": 18}, "labelPadding": {"condition": {"test": "datum.value == 0", "value": 2}, "value": 11}, "labelLineHeight": 19}},
                        "y": {"field": "y", "type": "quantitative", "scale": {"domain": [0, 0.2857], "nice": false}, "axis": {"values": [0, 0.1, 0.2], "labels": false, "title": null}}}},
          {"data": {"name": "e_o"}, "mark": {"type": "line", "color": "#ff7f0e", "strokeWidth": 2.8, "point": {"filled": true, "size": 30, "color": "#ff7f0e"}},
           "encoding": {"x": {"field": "x", "type": "quantitative", "scale": {"domain": [0, 64], "nice": false, "zero": false}},
                        "y": {"field": "y", "type": "quantitative", "scale": {"domain": [0, 0.2857], "nice": false}}}},
          {"data": {"values": [{"t": "(e)"}]}, "mark": {"type": "text", "align": "right", "baseline": "alphabetic", "fontSize": 23, "color": "#000"},
           "encoding": {"x": {"datum": 60.1, "type": "quantitative", "scale": {"domain": [0, 64], "nice": false, "zero": false}},
                        "y": {"datum": 0.014, "type": "quantitative", "scale": {"domain": [0, 0.2857], "nice": false}}, "text": {"field": "t"}}}
        ]},
        {"layer": [
          {"data": {"name": "gray"}, "mark": {"type": "area", "color": "#a9a9a9", "interpolate": "monotone"},
           "encoding": {"x": {"field": "u", "type": "quantitative", "scale": {"domain": [-159.5, 54.5], "nice": false, "zero": false}, "axis": null}, "y": {"field": "w", "type": "quantitative", "scale": {"domain": [-108.8, 91.2], "nice": false, "zero": false}, "axis": null}, "y2": {"datum": 81.3}}},
          {"data": {"name": "curves"}, "mark": {"type": "line", "color": "#000", "strokeWidth": 1.7, "interpolate": "monotone"},
           "encoding": {"x": {"field": "u", "type": "quantitative", "scale": {"domain": [-159.5, 54.5], "nice": false, "zero": false}, "axis": null}, "y": {"field": "w", "type": "quantitative", "scale": {"domain": [-108.8, 91.2], "nice": false, "zero": false}, "axis": null}, "detail": {"field": "c"}}},
          {"data": {"name": "red"}, "mark": {"type": "line", "color": "#ff0000", "strokeWidth": 1.2},
           "encoding": {"x": {"field": "u", "type": "quantitative", "scale": {"domain": [-159.5, 54.5], "nice": false, "zero": false}, "axis": null}, "y": {"field": "w", "type": "quantitative", "scale": {"domain": [-108.8, 91.2], "nice": false, "zero": false}, "axis": null}, "detail": {"field": "s"}}},
          {"data": {"name": "dash"}, "transform": [{"filter": "datum.p == 'e'"}], "mark": {"type": "line", "color": "#0000ff", "strokeWidth": 2, "strokeDash": [5.5, 2.5]},
           "encoding": {"x": {"field": "u", "type": "quantitative", "scale": {"domain": [-159.5, 54.5], "nice": false, "zero": false}, "axis": null}, "y": {"field": "w", "type": "quantitative", "scale": {"domain": [-108.8, 91.2], "nice": false, "zero": false}, "axis": null}}}
        ]}
      ],
      "resolve": {"scale": {"x": "independent", "y": "independent"}}
    },
    {
      "width": 214, "height": 200,
      "layer": [
        {"layer": [
          {"data": {"name": "f_b"}, "mark": {"type": "line", "color": "#1f77b4", "strokeWidth": 2.8, "point": {"filled": true, "size": 30, "color": "#1f77b4"}},
           "encoding": {"x": {"field": "x", "type": "quantitative", "scale": {"domain": [0, 64], "nice": false, "zero": false}, "axis": {"values": [0, 64], "title": null, "labelExpr": "datum.value == 0 ? '0' : ['Lₓ', '2\u0305']", "labelFontSize": {"condition": {"test": "datum.value == 0", "value": 28}, "value": 18}, "labelPadding": {"condition": {"test": "datum.value == 0", "value": 2}, "value": 11}, "labelLineHeight": 19}},
                        "y": {"field": "y", "type": "quantitative", "scale": {"domain": [0, 0.2857], "nice": false}, "axis": {"values": [0, 0.1, 0.2], "labels": false, "title": null}}}},
          {"data": {"name": "f_o"}, "mark": {"type": "line", "color": "#ff7f0e", "strokeWidth": 2.8, "point": {"filled": true, "size": 30, "color": "#ff7f0e"}},
           "encoding": {"x": {"field": "x", "type": "quantitative", "scale": {"domain": [0, 64], "nice": false, "zero": false}},
                        "y": {"field": "y", "type": "quantitative", "scale": {"domain": [0, 0.2857], "nice": false}}}},
          {"data": {"values": [{"t": "(f)"}]}, "mark": {"type": "text", "align": "right", "baseline": "alphabetic", "fontSize": 23, "color": "#000"},
           "encoding": {"x": {"datum": 61.3, "type": "quantitative", "scale": {"domain": [0, 64], "nice": false, "zero": false}},
                        "y": {"datum": 0.014, "type": "quantitative", "scale": {"domain": [0, 0.2857], "nice": false}}, "text": {"field": "t"}}}
        ]},
        {"layer": [
          {"data": {"name": "gray"}, "mark": {"type": "area", "color": "#a9a9a9", "interpolate": "monotone"},
           "encoding": {"x": {"field": "u", "type": "quantitative", "scale": {"domain": [-159.5, 54.5], "nice": false, "zero": false}, "axis": null}, "y": {"field": "w", "type": "quantitative", "scale": {"domain": [-108.8, 91.2], "nice": false, "zero": false}, "axis": null}, "y2": {"datum": 81.3}}},
          {"data": {"name": "curves"}, "mark": {"type": "line", "color": "#000", "strokeWidth": 1.7, "interpolate": "monotone"},
           "encoding": {"x": {"field": "u", "type": "quantitative", "scale": {"domain": [-159.5, 54.5], "nice": false, "zero": false}, "axis": null}, "y": {"field": "w", "type": "quantitative", "scale": {"domain": [-108.8, 91.2], "nice": false, "zero": false}, "axis": null}, "detail": {"field": "c"}}},
          {"data": {"name": "red"}, "mark": {"type": "line", "color": "#ff0000", "strokeWidth": 1.2},
           "encoding": {"x": {"field": "u", "type": "quantitative", "scale": {"domain": [-159.5, 54.5], "nice": false, "zero": false}, "axis": null}, "y": {"field": "w", "type": "quantitative", "scale": {"domain": [-108.8, 91.2], "nice": false, "zero": false}, "axis": null}, "detail": {"field": "s"}}},
          {"data": {"name": "dash"}, "transform": [{"filter": "datum.p == 'f'"}], "mark": {"type": "line", "color": "#0000ff", "strokeWidth": 2, "strokeDash": [5.5, 2.5]},
           "encoding": {"x": {"field": "u", "type": "quantitative", "scale": {"domain": [-159.5, 54.5], "nice": false, "zero": false}, "axis": null}, "y": {"field": "w", "type": "quantitative", "scale": {"domain": [-108.8, 91.2], "nice": false, "zero": false}, "axis": null}}}
        ]}
      ],
      "resolve": {"scale": {"x": "independent", "y": "independent"}}
    }
  ],
  "config": {
    "font": "DejaVu Sans",
    "view": {"stroke": "#222", "strokeWidth": 1},
    "axis": {"grid": false, "domain": false, "tickColor": "#000", "tickSize": 3.5, "tickWidth": 0.8, "labelFont": "DejaVu Sans", "titleFont": "DejaVu Sans", "labelColor": "#000", "titleColor": "#000", "labelPadding": 3.5},
    "text": {"font": "DejaVu Sans"}
  }
}
